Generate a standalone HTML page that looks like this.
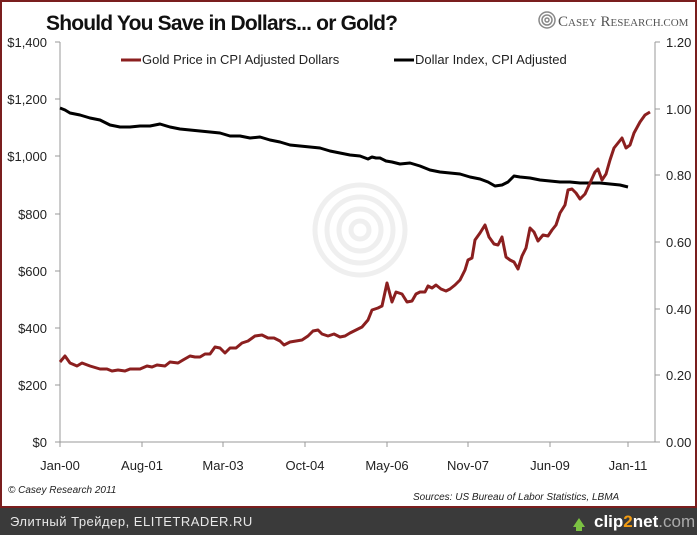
<!DOCTYPE html>
<html><head><style>
body{margin:0;width:697px;height:535px;overflow:hidden;background:#fff;font-family:"Liberation Sans",sans-serif}
</style></head><body>
<svg width="697" height="535" xmlns="http://www.w3.org/2000/svg" font-family="Liberation Sans, sans-serif">
<rect x="0" y="0" width="697" height="535" fill="#fff"/>
<rect x="1" y="1" width="695" height="506" fill="none" stroke="#7a1e1e" stroke-width="2"/>
<rect x="0" y="508" width="697" height="27" fill="#3a3a3a"/>
<text x="10" y="526" font-size="13" fill="#e8e8e8" letter-spacing="0.5">Элитный Трейдер, ELITETRADER.RU</text>
<text x="594" y="527" font-size="17" font-weight="bold" fill="#fff">clip<tspan fill="#f39c12">2</tspan>net<tspan fill="#aaa" font-weight="normal">.com</tspan></text>
<path d="M573 527 l6-9 l6 9 h-3 v4 h-6 v-4z" fill="#7bc142"/>
<text x="46" y="30" font-size="21" font-weight="bold" fill="#111" textLength="352">Should You Save in Dollars... or Gold?</text>
<g fill="none" stroke="#888" stroke-width="1.5"><circle cx="547" cy="20" r="8"/><circle cx="547" cy="20" r="5"/><circle cx="547" cy="20" r="2"/></g>
<text x="558" y="26" font-size="15" font-family="Liberation Serif, serif" fill="#555">C<tspan font-size="11">ASEY</tspan> R<tspan font-size="11">ESEARCH.COM</tspan></text>
<g fill="none" stroke="#efefef" stroke-width="5"><circle cx="360" cy="230" r="45"/><circle cx="360" cy="230" r="33"/><circle cx="360" cy="230" r="21"/><circle cx="360" cy="230" r="9"/></g>
<g stroke="#999" stroke-width="1">
<line x1="60" y1="42" x2="60" y2="442"/><line x1="655" y1="42" x2="655" y2="442"/><line x1="60" y1="442" x2="655" y2="442"/>
<line x1="55" y1="42" x2="60" y2="42"/><line x1="55" y1="99" x2="60" y2="99"/><line x1="55" y1="156" x2="60" y2="156"/><line x1="55" y1="214" x2="60" y2="214"/><line x1="55" y1="271" x2="60" y2="271"/><line x1="55" y1="328" x2="60" y2="328"/><line x1="55" y1="385" x2="60" y2="385"/><line x1="55" y1="442" x2="60" y2="442"/>
<line x1="655" y1="42" x2="660" y2="42"/><line x1="655" y1="109" x2="660" y2="109"/><line x1="655" y1="175" x2="660" y2="175"/><line x1="655" y1="242" x2="660" y2="242"/><line x1="655" y1="309" x2="660" y2="309"/><line x1="655" y1="375" x2="660" y2="375"/><line x1="655" y1="442" x2="660" y2="442"/>
<line x1="60" y1="442" x2="60" y2="447"/><line x1="142" y1="442" x2="142" y2="447"/><line x1="223" y1="442" x2="223" y2="447"/><line x1="305" y1="442" x2="305" y2="447"/><line x1="387" y1="442" x2="387" y2="447"/><line x1="468" y1="442" x2="468" y2="447"/><line x1="550" y1="442" x2="550" y2="447"/><line x1="628" y1="442" x2="628" y2="447"/>
</g>
<g font-size="13" fill="#222" text-anchor="end">
<text x="47" y="47">$1,400</text><text x="47" y="104">$1,200</text><text x="47" y="161">$1,000</text><text x="47" y="219">$800</text><text x="47" y="276">$600</text><text x="47" y="333">$400</text><text x="47" y="390">$200</text><text x="47" y="447">$0</text>
</g>
<g font-size="13" fill="#222">
<text x="666" y="47">1.20</text><text x="666" y="114">1.00</text><text x="666" y="180">0.80</text><text x="666" y="247">0.60</text><text x="666" y="314">0.40</text><text x="666" y="380">0.20</text><text x="666" y="447">0.00</text>
</g>
<g font-size="13" fill="#222" text-anchor="middle">
<text x="60" y="470">Jan-00</text><text x="142" y="470">Aug-01</text><text x="223" y="470">Mar-03</text><text x="305" y="470">Oct-04</text><text x="387" y="470">May-06</text><text x="468" y="470">Nov-07</text><text x="550" y="470">Jun-09</text><text x="628" y="470">Jan-11</text>
</g>
<line x1="121" y1="60" x2="141" y2="60" stroke="#8b1f1f" stroke-width="3"/>
<text x="142" y="64" font-size="13" fill="#222">Gold Price in CPI Adjusted Dollars</text>
<line x1="394" y1="60" x2="414" y2="60" stroke="#000" stroke-width="3"/>
<text x="415" y="64" font-size="13" fill="#222">Dollar Index, CPI Adjusted</text>
<text x="8" y="493" font-size="10" font-style="italic" fill="#222">© Casey Research 2011</text>
<text x="413" y="500" font-size="10" font-style="italic" fill="#222">Sources: US Bureau of Labor Statistics, LBMA</text>
<polyline fill="none" stroke="#000" stroke-width="3" stroke-linejoin="round" points="60,108 65,110 70,113 80,115 90,118 100,120 110,125 120,127 130,127 140,126 150,126 160,124 170,127 180,129 190,130 200,131 210,132 220,133 230,136 240,136 250,138 260,137 270,140 280,142 290,145 300,146 310,147 320,148 330,151 340,153 350,155 360,156 368,159 372,157 376,158 380,158 386,161 392,162 400,164 410,163 420,166 430,170 440,172 450,173 460,174 470,177 480,179 488,182 495,186 502,185 508,182 514,176 520,177 530,178 540,180 550,181 560,182 570,182 580,183 590,183 600,183 610,184 620,185 628,187"/>
<polyline fill="none" stroke="#8b1f1f" stroke-width="3" stroke-linejoin="round" points="60,362 65,356 70,363 77,366 82,363 90,366 100,369 107,369 112,371 118,370 125,371 130,369 135,369 140,369 147,366 152,367 157,365 165,366 170,362 178,363 183,360 190,356 195,357 200,357 205,354 210,354 215,347 220,348 225,353 230,348 236,348 242,343 248,341 255,336 262,335 268,338 274,338 280,341 284,345 290,342 296,341 302,340 308,336 313,331 318,330 322,334 328,336 334,334 340,337 345,336 350,333 356,330 362,327 368,320 372,310 378,308 382,306 387,283 392,302 396,292 402,294 407,302 412,301 416,294 420,292 425,292 428,286 432,288 436,285 441,289 446,291 450,289 455,285 460,280 465,270 468,260 472,258 475,240 480,233 485,225 489,237 494,244 498,245 502,237 506,257 510,260 514,262 518,269 522,256 526,248 530,228 534,232 538,241 543,235 548,236 552,230 556,225 560,213 565,205 568,190 572,189 576,193 580,199 585,194 590,183 595,172 598,169 602,180 606,174 610,160 614,148 618,143 622,138 626,148 630,145 634,133 640,122 645,115 650,112"/>
</svg>
</body></html>
